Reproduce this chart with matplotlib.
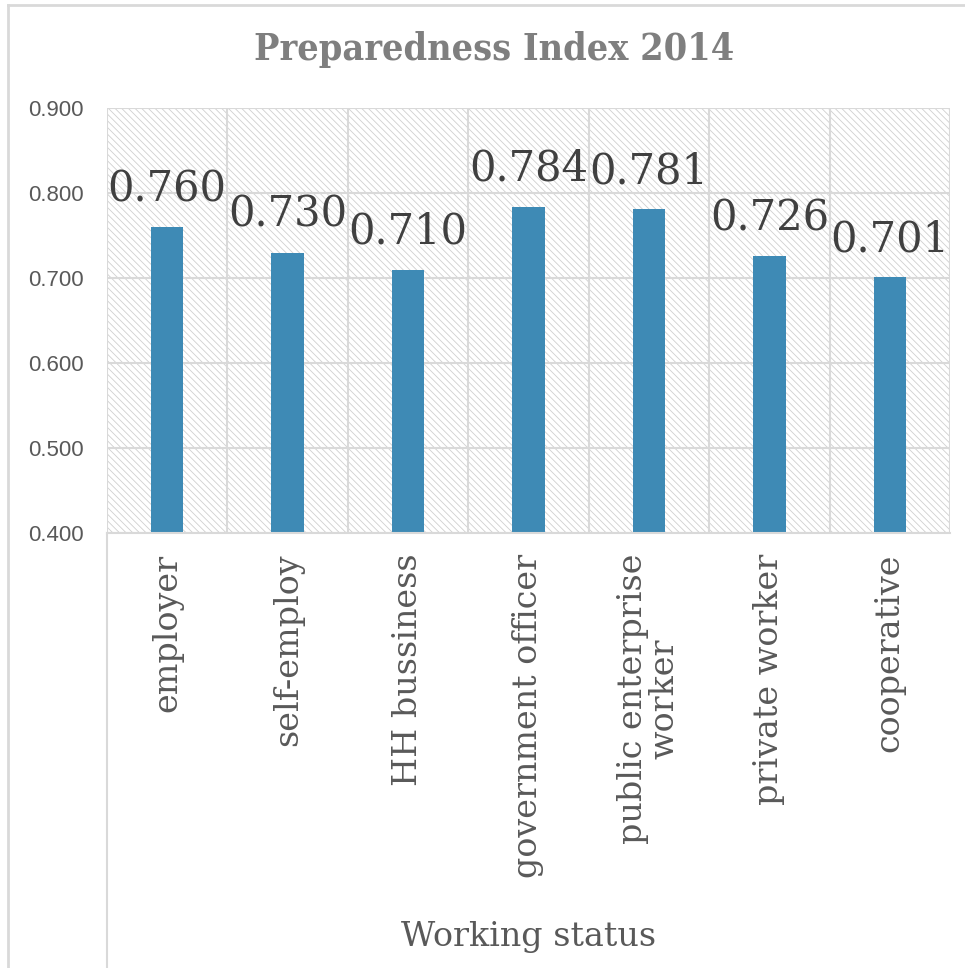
import matplotlib.pyplot as plt
from matplotlib.patches import Rectangle
from matplotlib.lines import Line2D

# preparedness index by working status
categories = ['employer', 'self-employ', 'HH bussiness', 'government officer',
              'public enterprise\nworker', 'private worker', 'cooperative']
values = [0.760, 0.730, 0.710, 0.784, 0.781, 0.726, 0.701]
value_labels = ['0.760', '0.730', '0.710', '0.784', '0.781', '0.726', '0.701']
y_ticks = [0.4, 0.5, 0.6, 0.7, 0.8, 0.9]

plt.rcParams['hatch.linewidth'] = 0.6
plt.rcParams['hatch.color'] = '#d0d0d0'

grid_col = '#d9d9d9'
text_col = '#595959'
bar_col = '#3e8ab5'

fig = plt.figure(figsize=(9.65, 9.68), dpi=100)
ax = fig.add_axes([107 / 965, 1 - 533 / 968, 843 / 965, 425 / 968])

n = len(categories)
ax.set_xlim(-0.5, n - 0.5)
ax.set_ylim(0.4, 0.9)

# hatched plot background
ax.add_patch(Rectangle((0, 0), 1, 1, transform=ax.transAxes, facecolor='white',
                       edgecolor='#d0d0d0', hatch='\\\\\\\\\\', lw=0, zorder=0))

for y in y_ticks:
    ax.axhline(y, color=grid_col, lw=1.5, zorder=1)
for i in range(n + 1):
    ax.axvline(i - 0.5, color=grid_col, lw=1.5, zorder=1)

x = list(range(n))
ax.bar(x, values, width=0.27, color=bar_col, zorder=2, bottom=0)

for xi, v, lab in zip(x, values, value_labels):
    ax.annotate(lab, (xi, v), xytext=(0, 12), textcoords='offset points',
                ha='center', va='bottom', fontsize=30, family='DejaVu Serif',
                color='#404040', zorder=3)

for s in ax.spines.values():
    s.set_visible(False)

ax.set_yticks(y_ticks)
ax.set_yticklabels(['%.3f' % t for t in y_ticks], fontsize=16,
                   family='Liberation Sans', color=text_col)
ax.set_xticks(x)
ax.set_xticklabels(categories, rotation=90, fontsize=24, family='DejaVu Serif',
                   color=text_col, va='top', linespacing=1.0)
ax.tick_params(axis='both', length=0)
ax.tick_params(axis='y', pad=17)
ax.tick_params(axis='x', pad=15)

ax.set_xlabel('Working status', fontsize=24, family='DejaVu Serif',
              color=text_col, va='center')
ax.xaxis.set_label_coords(0.5, -0.951)

fig.text(494 / 965, 1 - 50 / 968, 'Preparedness Index 2014', ha='center',
         va='center', fontsize=27, fontweight='bold', fontstretch='condensed',
         family='DejaVu Serif', color='#7f7f7f')

# outer chart frame and the axis line running to the bottom
fig.add_artist(Line2D([8 / 965, 1], [1 - 5 / 968, 1 - 5 / 968], color=grid_col, lw=2))
fig.add_artist(Line2D([8 / 965, 8 / 965], [0, 1 - 5 / 968], color=grid_col, lw=2))
fig.add_artist(Line2D([107 / 965, 107 / 965], [0, 1 - 533 / 968], color=grid_col, lw=1.5))
fig.add_artist(Line2D([107 / 965, 950 / 965], [1 - 533 / 968, 1 - 533 / 968], color=grid_col, lw=1.5))

fig.savefig('out.png', dpi=100)
